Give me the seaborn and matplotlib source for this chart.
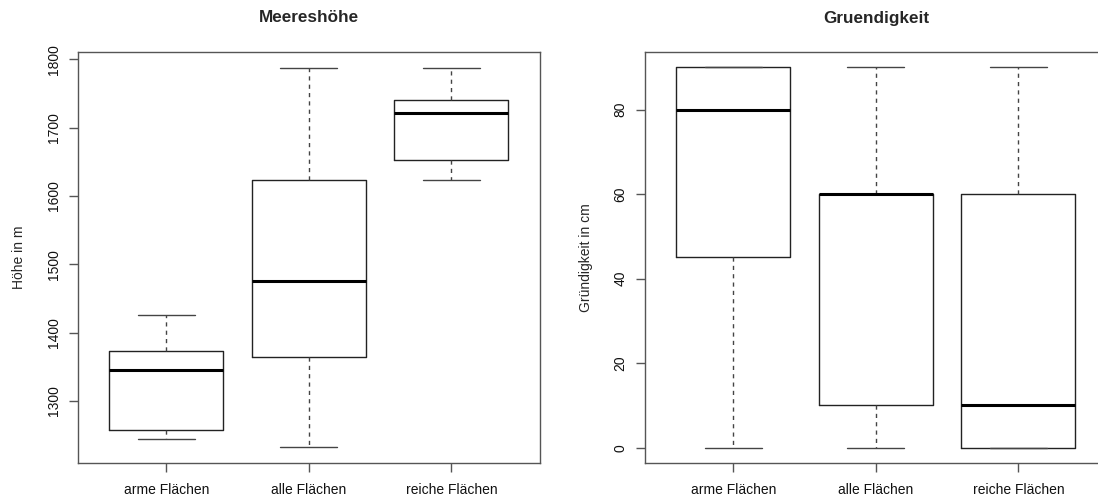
import numpy as np
import pandas as pd
import matplotlib
matplotlib.use("Agg")
import matplotlib.pyplot as plt
import seaborn as sns

# Categories
groups = ["arme Flächen", "alle Flächen", "reiche Flächen"]

# Five-number summaries (min, Q1, median, Q3, max)
hoehe_arme = [1244, 1258, 1345, 1373, 1426]
hoehe_alle = [1232, 1364, 1475, 1623, 1788]
hoehe_reiche = [1624, 1653, 1721, 1741, 1788]

gruend_arme = [0, 45, 80, 90, 90]
gruend_alle = [0, 10, 60, 60, 90]
gruend_reiche = [0, 0, 10, 60, 90]

hoehe_ticks = [1300, 1400, 1500, 1600, 1700, 1800]
gruend_ticks = [0, 20, 40, 60, 80]


def long_df(a, b, c):
    return pd.DataFrame({
        "Gruppe": [groups[0]] * len(a) + [groups[1]] * len(b) + [groups[2]] * len(c),
        "Wert": list(a) + list(b) + list(c),
    })


df_h = long_df(hoehe_arme, hoehe_alle, hoehe_reiche)
df_g = long_df(gruend_arme, gruend_alle, gruend_reiche)

sns.set_style("white")
plt.rcParams["font.family"] = ["Liberation Sans", "DejaVu Sans"]

fig = plt.figure(figsize=(10.98, 4.98), dpi=100)
W, H = 1098, 498
ax1 = fig.add_axes([78 / W, 1 - 463 / H, 461.7 / W, 411 / H])
ax2 = fig.add_axes([645 / W, 1 - 463 / H, 461.7 / W, 411 / H])

box_kw = dict(
    order=groups, width=0.8, whis=np.inf, fill=False, linecolor="black",
    linewidth=1.0,
    boxprops=dict(color="#222222", linewidth=1.0),
    whiskerprops=dict(color="#444444", linewidth=1.0, linestyle=(0, (3, 3))),
    capprops=dict(color="#444444", linewidth=1.0),
    medianprops=dict(color="black", linewidth=2.2, solid_capstyle="butt"),
    showfliers=False,
)


def style(ax, ylim, yticks, ylabel, title):
    ax.set_xlim(-0.62, 2.62)
    ax.set_ylim(*ylim)
    ax.set_yticks(yticks)
    ax.set_yticklabels([str(t) for t in yticks])
    ax.set_xlabel("")
    ax.set_ylabel(ylabel, fontsize=10)
    ax.yaxis.set_label_coords(-0.113, 0.5)
    for s in ax.spines.values():
        s.set_visible(True)
        s.set_color("#555555")
        s.set_linewidth(1.0)
    ax.tick_params(axis="both", direction="out", length=6.5, width=1.0,
                   color="#555555", labelsize=10, labelcolor="#111111")
    ax.tick_params(axis="y", pad=6, labelrotation=90)
    ax.tick_params(axis="x", pad=8)
    ax.tick_params(left=True, bottom=True)
    for lab in ax.get_yticklabels():
        lab.set_va("center")
    ax.grid(False)
    x0, x1 = ax.get_position().x0, ax.get_position().x1
    fig.text((x0 + x1) / 2, 1 - 18 / H, title, ha="center", va="center",
             fontsize=12.3, fontweight="bold")


sns.boxplot(data=df_h, x="Gruppe", y="Wert", ax=ax1, **box_kw)
style(ax1, (1209.3, 1810.7), hoehe_ticks, "Höhe in m", "Meereshöhe")

sns.boxplot(data=df_g, x="Gruppe", y="Wert", ax=ax2, **box_kw)
style(ax2, (-3.6, 93.6), gruend_ticks, "Gründigkeit in cm", "Gruendigkeit")

fig.savefig("out.png", dpi=100, facecolor="white")
